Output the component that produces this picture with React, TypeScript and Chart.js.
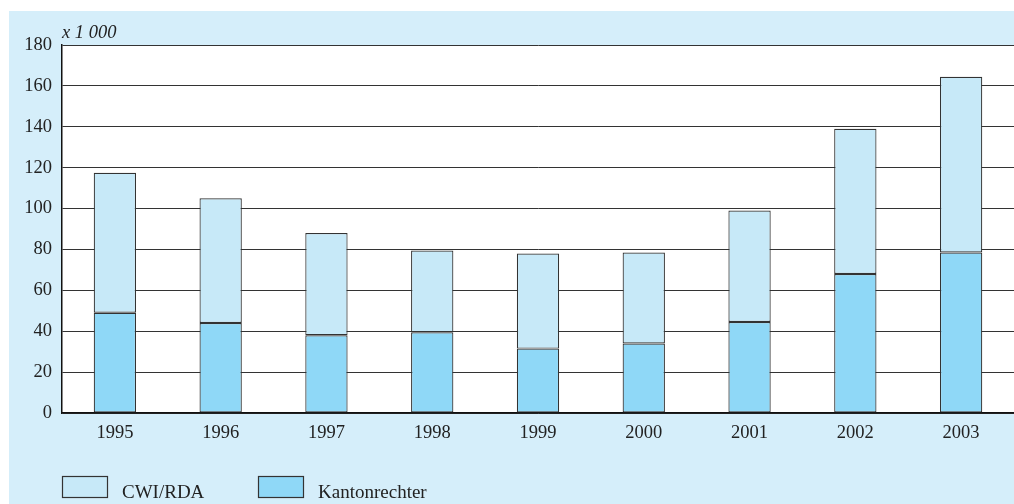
import React, { useEffect, useRef } from 'react';
import { Chart, registerables } from 'chart.js';

Chart.register(...registerables);

const years = ['1995', '1996', '1997', '1998', '1999', '2000', '2001', '2002', '2003'];
const kantonrechter = [49, 44, 38, 39.5, 31.5, 34, 44.5, 68, 78.5];
const cwiRda = [68.5, 61, 50, 40, 46.5, 44.5, 54.5, 71, 86];
const yTicks = [0, 20, 40, 60, 80, 100, 120, 140, 160, 180];
const unitLabel = 'x 1 000';

const FONT = '"Liberation Serif", "DejaVu Serif", serif';
const DARK = '#8fd8f7';
const LIGHT = '#c7e9f8';
const BG = '#d5eefa';
const LINE = '#333333';

const extras = {
  id: 'extras',
  beforeDraw(chart: any) {
    const ctx = chart.ctx;
    const a = chart.chartArea;
    ctx.save();
    ctx.fillStyle = '#ffffff';
    ctx.fillRect(a.left, a.top, a.right - a.left, a.bottom - a.top);
    ctx.restore();
  },
  afterDraw(chart: any) {
    const ctx = chart.ctx;
    const area = chart.chartArea;
    ctx.save();
    // unit label
    ctx.font = 'italic 18.5px ' + FONT;
    ctx.fillStyle = '#222';
    ctx.textAlign = 'left';
    ctx.textBaseline = 'alphabetic';
    ctx.fillText(unitLabel, area.left, area.top - 7);
    // legend (top stack first)
    const ds = chart.data.datasets.slice().reverse();
    let x = area.left;
    const boxW = 45;
    const boxH = 21;
    const y = 465;
    ctx.font = '19px ' + FONT;
    ds.forEach((d: any) => {
      ctx.fillStyle = d.backgroundColor;
      ctx.fillRect(x, y, boxW, boxH);
      ctx.strokeStyle = LINE;
      ctx.lineWidth = 1.2;
      ctx.strokeRect(x + 0.5, y + 0.5, boxW, boxH);
      ctx.fillStyle = '#222';
      ctx.fillText(d.label, x + boxW + 15, y + boxH + 1);
      x += 196;
    });
    ctx.restore();
  },
};

export default function App() {
  const ref = useRef<HTMLCanvasElement>(null);
  useEffect(() => {
    document.body.style.margin = '0';
    const chart = new Chart(ref.current!, {
      type: 'bar',
      data: {
        labels: years,
        datasets: [
          {
            label: 'Kantonrechter',
            data: kantonrechter,
            backgroundColor: DARK,
            borderColor: LINE,
            borderWidth: 1.2,
            borderSkipped: false,
            barPercentage: 0.4,
            categoryPercentage: 1,
          },
          {
            label: 'CWI/RDA',
            data: cwiRda,
            backgroundColor: LIGHT,
            borderColor: LINE,
            borderWidth: 1.2,
            borderSkipped: false,
            barPercentage: 0.4,
            categoryPercentage: 1,
          },
        ],
      },
      options: {
        responsive: false,
        animation: false,
        layout: { padding: { top: 34, left: 0, right: 0, bottom: 0 } },
        plugins: { legend: { display: false }, tooltip: { enabled: false } },
        scales: {
          x: {
            stacked: true,
            grid: { display: false, drawTicks: false },
            border: { display: true, color: '#111', width: 1.5 },
            ticks: { font: { family: FONT, size: 18.5 }, color: '#222', padding: 9 },
            afterFit: (s: any) => {
              s.height = 91;
            },
          },
          y: {
            stacked: true,
            min: 0,
            max: 180,
            afterBuildTicks: (s: any) => {
              s.ticks = yTicks.map((v) => ({ value: v }));
            },
            grid: { color: LINE, lineWidth: 1, drawTicks: false },
            border: { display: true, color: '#111', width: 1.5 },
            ticks: { font: { family: FONT, size: 18.5 }, color: '#222', padding: 10 },
            afterFit: (s: any) => {
              s.width = 53;
            },
          },
        },
      },
      plugins: [extras],
    });
    return () => chart.destroy();
  }, []);
  return (
    <div style={{ position: 'absolute', left: 9, top: 11, width: 1005, height: 493, background: BG }}>
      <canvas ref={ref} width={1005} height={493} style={{ display: 'block' }} />
    </div>
  );
}
